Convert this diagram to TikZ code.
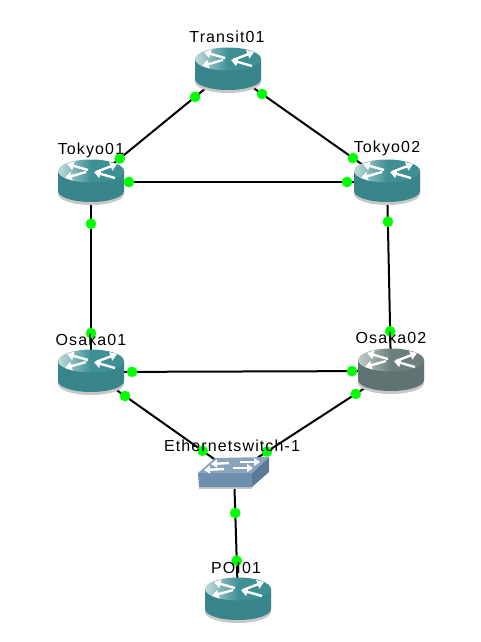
\documentclass[tikz,border=0pt]{standalone}
\usepackage{fontspec}
\setmainfont[LetterSpace=7]{Liberation Sans}
\usepackage{xcolor}
\usetikzlibrary{arrows.meta,shapes.geometric}
\definecolor{linkblack}{HTML}{000000}
\definecolor{portgreen}{HTML}{00FF00}
\definecolor{routertop}{HTML}{3F9094}
\definecolor{routerside}{HTML}{37858A}
\definecolor{routerlight}{HTML}{BFDADA}
\definecolor{greytop}{HTML}{6B7F7D}
\definecolor{greyside}{HTML}{5F7472}
\definecolor{greylight}{HTML}{C4CCCB}
\definecolor{shadowgray}{HTML}{C8C8C8}
\definecolor{switchtop}{HTML}{8AA4BC}
\definecolor{switchfront}{HTML}{6F8FAF}
\definecolor{switchside}{HTML}{5B7A96}
\tikzset{
  routerbox/.style={inner sep=0pt, minimum width=1pt, minimum height=1pt},
  link/.style={draw=linkblack, line width=1.5pt},
  port/.style={circle, fill=portgreen, inner sep=0pt, minimum size=8pt},
  hostname/.style={inner sep=0pt, font=\fontsize{12}{14}\selectfont, text=black},
  flow/.style={draw=white, line width=1.8pt, -{Triangle[length=5pt, width=6.5pt]}},
  smallflow/.style={draw=white, line width=1.8pt, -{Triangle[length=4.5pt, width=6pt]}},
  pics/router/.style n args={3}{code={
    \fill[shadowgray] (-33,-8) -- (-33,12) arc[start angle=180, end angle=0, x radius=33, y radius=11] -- (33,-8) -- cycle;
    \fill[#2] (-33,-11) -- (-33,9) arc[start angle=180, end angle=0, x radius=33, y radius=11] -- (33,-11) -- cycle;
    \path[left color=#3, right color=#1, middle color=#1] (0,-11) ellipse[x radius=33, y radius=11.5];
    \draw[flow] (-3,-12) -- (-24,-18);
    \draw[flow] (5,-10) -- (26,-18);
    \draw[flow] (-5,-10) -- (-26,-4);
    \draw[flow] (24,-4) -- (3,-10);
  }},
  pics/switch/.style={code={
    \fill[shadowgray] (-35,14) -- (18,14) -- (18,16) -- (-35,16) -- cycle;
    \fill[switchfront] (-36,0) -- (18,0) -- (18,14) -- (-35,14) -- cycle;
    \fill[switchside] (18,0) -- (35,-16) -- (35,-1) -- (18,14) -- cycle;
    \fill[switchtop] (-36,0) -- (-19,-15) -- (35,-16) -- (18,0) -- cycle;
    \draw[smallflow] (-5,-10) -- (-23,-9);
    \draw[smallflow] (6,-11) -- (26,-11);
    \draw[smallflow] (-10,-4) -- (-30,-3);
    \draw[smallflow] (-1,-5) -- (19,-5);
  }}
}
\begin{document}
\begin{tikzpicture}[x=0.75pt, y=-0.75pt]
  \useasboundingbox (0,0) rectangle (481,642);
  \node[routerbox] (transit01) at (228,70) {};
  \node[routerbox] (tokyo01) at (91,182) {};
  \node[routerbox] (tokyo02) at (387,182) {};
  \node[routerbox] (osaka01) at (91,372) {};
  \node[routerbox] (osaka02) at (391,371) {};
  \node[routerbox] (ethsw1) at (234,473) {};
  \node[routerbox] (poi01) at (238,600) {};

  \draw[link] (transit01.center) -- node[port, pos=.24] (p1) {} node[port, pos=.79] (p2) {} (tokyo01.center);
  \draw[link] (transit01.center) -- node[port, pos=.214] (p3) {} node[port, pos=.786] (p4) {} (tokyo02.center);
  \draw[link] (tokyo01.center) -- node[port, pos=.128] (p5) {} node[port, pos=.865] (p6) {} (tokyo02.center);
  \draw[link] (tokyo01.center) -- node[port, pos=.22] (p7) {} node[port, pos=.795] (p8) {} (osaka01.center);
  \draw[link] (tokyo02.center) -- node[port, pos=.21] (p9) {} node[port, pos=.79] (p10) {} (osaka02.center);
  \draw[link] (osaka01.center) -- node[port, pos=.137] (p11) {} node[port, pos=.87] (p12) {} (osaka02.center);
  \draw[link] (osaka01.center) -- node[port, pos=.238] (p13) {} node[port, pos=.78] (p14) {} (ethsw1.center);
  \draw[link] (osaka02.center) -- node[port, pos=.225] (p15) {} node[port, pos=.79] (p16) {} (ethsw1.center);
  \draw[link] (ethsw1.center) -- node[port, pos=.315] (p17) {} node[port, pos=.69] (p18) {} (poi01.center);

  \pic at (transit01) {router={routertop}{routerside}{routerlight}};
  \pic at (tokyo01) {router={routertop}{routerside}{routerlight}};
  \pic at (tokyo02) {router={routertop}{routerside}{routerlight}};
  \pic at (osaka01) {router={routertop}{routerside}{routerlight}};
  \pic at (osaka02) {router={greytop}{greyside}{greylight}};
  \pic at (poi01) {router={routertop}{routerside}{routerlight}};
  \pic at (ethsw1) {switch};

  \node[hostname] (transit01name) at (227,37) {Transit01};
  \node[hostname] (tokyo01name) at (91,150) {Tokyo01};
  \node[hostname] (tokyo02name) at (387,148) {Tokyo02};
  \node[hostname] (osaka01name) at (91,340) {Osaka01};
  \node[hostname] (osaka02name) at (391,338) {Osaka02};
  \node[hostname] (ethsw1name) at (232,446) {Ethernetswitch-1};
  \node[hostname] (poi01name) at (236,568) {POI01};
\end{tikzpicture}
\end{document}
